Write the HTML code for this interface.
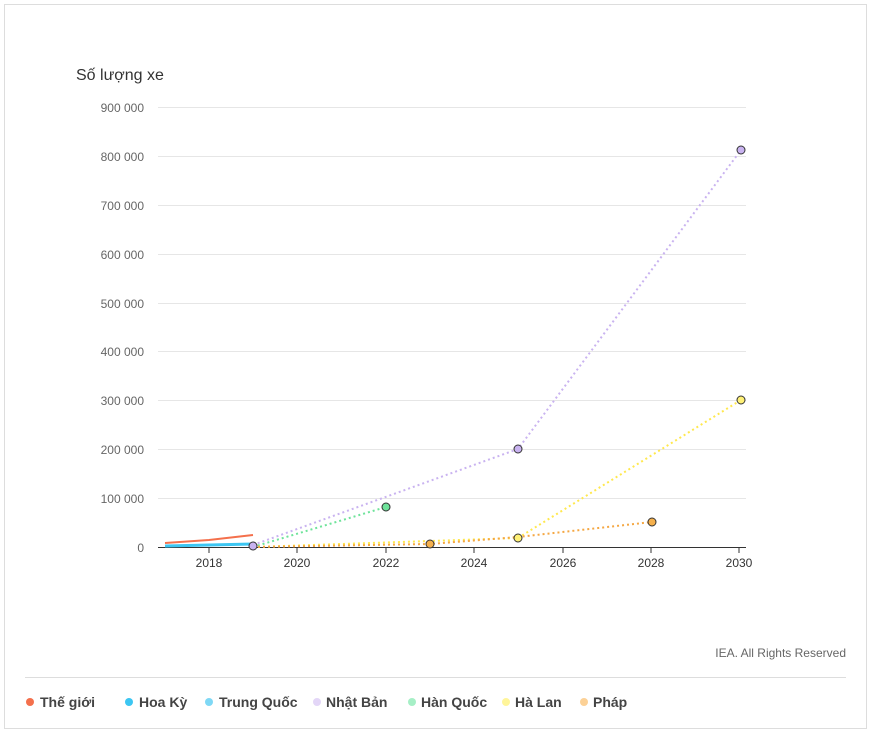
<!DOCTYPE html><html><head><meta charset="utf-8"><style>body{margin:0;background:#fff;font-family:"Liberation Sans","Noto Sans CJK SC",sans-serif}</style></head><body>
<svg width="871" height="733" xmlns="http://www.w3.org/2000/svg" font-family="Liberation Sans, sans-serif">
<rect x="4.5" y="4.5" width="862" height="724" fill="#fff" stroke="#ddd"/>
<text x="76" y="80" font-size="16" fill="#333">Số lượng xe</text>
<g stroke="#e6e6e6" stroke-width="1">
<line x1="158" x2="746" y1="107.5" y2="107.5"/><line x1="158" x2="746" y1="156.5" y2="156.5"/><line x1="158" x2="746" y1="205.5" y2="205.5"/><line x1="158" x2="746" y1="254.5" y2="254.5"/><line x1="158" x2="746" y1="303.5" y2="303.5"/><line x1="158" x2="746" y1="351.5" y2="351.5"/><line x1="158" x2="746" y1="400.5" y2="400.5"/><line x1="158" x2="746" y1="449.5" y2="449.5"/><line x1="158" x2="746" y1="498.5" y2="498.5"/>
</g>
<g font-size="12" fill="#666" text-anchor="end">
<text x="144" y="112">900 000</text><text x="144" y="161">800 000</text><text x="144" y="210">700 000</text><text x="144" y="259">600 000</text><text x="144" y="308">500 000</text><text x="144" y="356">400 000</text><text x="144" y="405">300 000</text><text x="144" y="454">200 000</text><text x="144" y="503">100 000</text><text x="144" y="552">0</text>
</g>
<line x1="158" x2="746" y1="547.5" y2="547.5" stroke="#333"/>
<g stroke="#333"><line x1="209" x2="209" y1="547" y2="553"/><line x1="297" x2="297" y1="547" y2="553"/><line x1="386" x2="386" y1="547" y2="553"/><line x1="474" x2="474" y1="547" y2="553"/><line x1="563" x2="563" y1="547" y2="553"/><line x1="651" x2="651" y1="547" y2="553"/><line x1="739" x2="739" y1="547" y2="553"/></g>
<g font-size="12" fill="#333" text-anchor="middle">
<text x="209" y="567">2018</text><text x="297" y="567">2020</text><text x="386" y="567">2022</text><text x="474" y="567">2024</text><text x="563" y="567">2026</text><text x="651" y="567">2028</text><text x="739" y="567">2030</text>
</g>
<g fill="none" stroke-width="2" stroke-dasharray="2,3">
<polyline points="253,545 518,449 741,150" stroke="#c9b3f0"/>
<polyline points="253,547 386,507" stroke="#6ee39a"/>
<polyline points="253,547 518,538 741,400" stroke="#ffe84d"/>
<polyline points="253,547 430,544 518,537 652,522" stroke="#f5a742"/>
</g>
<polyline points="165,543 209,540 253,535" fill="none" stroke="#f4704c" stroke-width="2"/>
<polyline points="165,546 253,544" fill="none" stroke="#3cc6f2" stroke-width="3"/>
<g stroke="#333" stroke-width="1">
<circle cx="253" cy="546" r="4" fill="#c9b3f0"/>
<circle cx="741" cy="150" r="4" fill="#c9b3f0"/><circle cx="518" cy="449" r="4" fill="#c9b3f0"/>
<circle cx="386" cy="507" r="4" fill="#6ee39a"/>
<circle cx="741" cy="400" r="4" fill="#fff176"/><circle cx="518" cy="538" r="4" fill="#fff176"/>
<circle cx="430" cy="544" r="4" fill="#f5b04c"/><circle cx="652" cy="522" r="4" fill="#f5b04c"/>
</g>
<text x="846" y="657" font-size="12" fill="#666" text-anchor="end">IEA. All Rights Reserved</text>
<line x1="25" x2="846" y1="677.5" y2="677.5" stroke="#ddd"/>
<g font-size="14" font-weight="bold" fill="#444">
<circle cx="30" cy="702" r="4" fill="#f4704c"/><text x="40" y="707">Thế giới</text>
<circle cx="129" cy="702" r="4" fill="#3cc6f2"/><text x="139" y="707">Hoa Kỳ</text>
<circle cx="209" cy="702" r="4" fill="#7fd8f5"/><text x="219" y="707">Trung Quốc</text>
<circle cx="317" cy="702" r="4" fill="#e3d6f7"/><text x="326" y="707">Nhật Bản</text>
<circle cx="412" cy="702" r="4" fill="#a6efc6"/><text x="421" y="707">Hàn Quốc</text>
<circle cx="506" cy="702" r="4" fill="#fff59a"/><text x="515" y="707">Hà Lan</text>
<circle cx="584" cy="702" r="4" fill="#fcd196"/><text x="593" y="707">Pháp</text>
</g>
</svg>
</body></html>
